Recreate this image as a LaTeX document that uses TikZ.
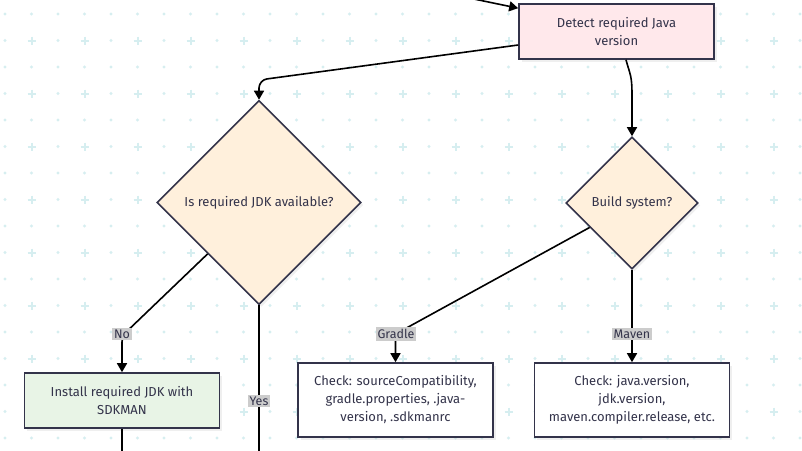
\documentclass[tikz,border=0pt]{standalone}
\usepackage{fontspec}
\setmainfont{Fira Sans}
\usetikzlibrary{shapes.geometric,arrows.meta,shadows}
\definecolor{ink}{HTML}{33334A}
\definecolor{gridc}{HTML}{D6EEF0}
\definecolor{pinkfill}{HTML}{FFE8EB}
\definecolor{creamfill}{HTML}{FFF0DC}
\definecolor{greenfill}{HTML}{E8F4E6}
\definecolor{lblgray}{HTML}{CCCCCC}
\begin{document}
\begin{tikzpicture}[x=1pt,y=-1pt,
    proc/.style={rectangle,draw=ink,line width=1.6pt,text=ink,align=center,minimum width=195pt,font=\fontsize{13}{18}\selectfont,drop shadow={shadow xshift=2.5pt,shadow yshift=-2.5pt,opacity=0.12}},
    dec/.style={diamond,draw=ink,line width=1.6pt,fill=creamfill,text=ink,inner sep=0pt,font=\fontsize{13}{18}\selectfont,drop shadow={shadow xshift=2.5pt,shadow yshift=-2.5pt,opacity=0.12}},
    lbl/.style={fill=lblgray,text=ink,inner sep=1.8pt,font=\fontsize{12.5}{14}\selectfont},
    arr/.style={line width=1.6pt,-{Triangle[length=9pt,width=10pt]}}]
                \clip (0,0) rectangle (802,450);
                \fill[white] (0,0) rectangle (802,450);

                % background grid
                \foreach \i in {0,...,30} {
                    \foreach \j in {0,...,16} {
                        \pgfmathsetmacro{\gx}{5+26.5*\i}
                        \pgfmathsetmacro{\gy}{14+26.5*\j}
                        \ifodd\i \ifodd\j
                            \draw[gridc,line width=2pt] (\gx-4,\gy) -- (\gx+4,\gy) (\gx,\gy-4) -- (\gx,\gy+4);
                        \else
                            \fill[gridc] (\gx,\gy) circle (1.6pt);
                        \fi \else
                            \fill[gridc] (\gx,\gy) circle (1.6pt);
                        \fi
                    }
                }

                \node[proc,fill=pinkfill,minimum height=55pt] (detect) at (616.5,31.5) {Detect required Java\\version};
                \node[dec,minimum size=204pt] (jdk) at (259,202.5) {Is required JDK available?};
                \node[dec,minimum size=132pt] (build) at (632,203) {Build system?};
                \node[proc,fill=greenfill,minimum height=55pt] (install) at (122,400.5) {Install required JDK with\\SDKMAN};
                \node[proc,fill=white,minimum height=74pt] (gradle) at (395.5,400) {Check: sourceCompatibility,\\gradle.properties, .java-\\version, .sdkmanrc};
                \node[proc,fill=white,minimum height=74pt] (maven) at (632,400) {Check: java.version,\\jdk.version,\\maven.compiler.release, etc.};

                \coordinate (entry) at (445,-7);
                \coordinate (jdkbend) at (259,80);
                \coordinate (buildbend) at (632,95);
                \coordinate (nobend) at (122,336);
                \coordinate (gradlebend) at (395.5,334);
                \coordinate (yesend) at (259,460);
                \coordinate (installend) at (122,460);

                \draw[arr] (entry) to ([yshift=-5pt]detect.north west);
                \draw[arr,rounded corners=8pt] ([yshift=-13.5pt]detect.west) -- (jdkbend) -- (jdk.north);
                \draw[arr] ([xshift=9.5pt]detect.south) .. controls +(4,15) and +(0,-20) .. (buildbend) -- (build.north);

                \draw[arr,rounded corners=6pt] (jdk.south west) -- (nobend) -- (install.north);
                \draw[line width=1.6pt] (jdk.south) to (yesend);
                \draw[line width=1.6pt] (install.south) to (installend);

                \draw[arr,rounded corners=6pt] (build.210) -- (gradlebend) -- (gradle.north);
                \draw[arr] (build.south) to (maven.north);

                \node[lbl] (no) at (122,334) {No};
                \node[lbl] (yes) at (259,401) {Yes};
                \node[lbl] (gradlelbl) at (396,334) {Gradle};
                \node[lbl] (mavenlbl) at (632,334) {Maven};
            \end{tikzpicture}
\end{document}
